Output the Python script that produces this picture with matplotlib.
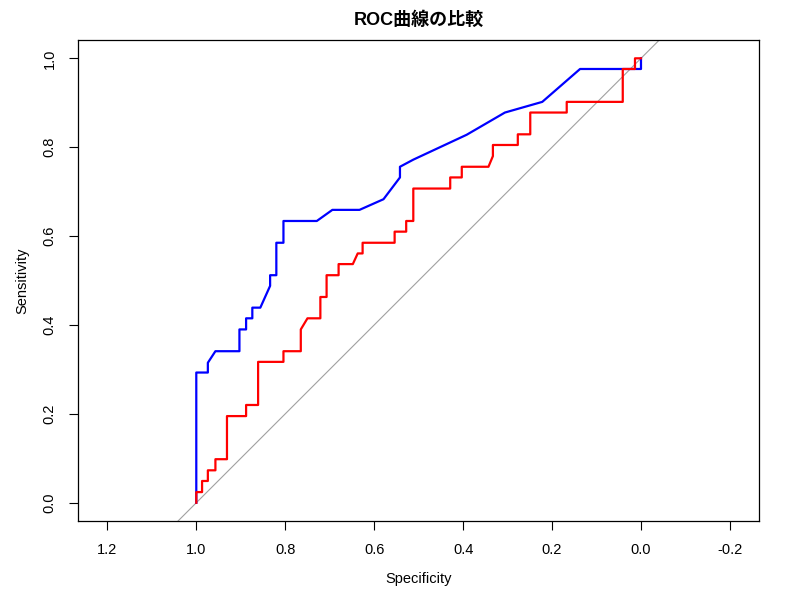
import matplotlib
matplotlib.use("Agg")
from matplotlib import pyplot as plt

plt.rcParams['font.family'] = ['Liberation Sans', 'Noto Sans CJK JP', 'DejaVu Sans']

# ROC curve points (specificity, sensitivity)
blue_spec = [1.0, 1.0, 0.974, 0.974, 0.957, 0.903, 0.903, 0.888, 0.888, 0.874, 0.874,
             0.856, 0.834, 0.834, 0.820, 0.820, 0.804, 0.804, 0.729, 0.694, 0.633,
             0.579, 0.542, 0.542, 0.512, 0.392, 0.306, 0.222, 0.137, 0.0, 0.0]
blue_sens = [0.0, 0.293, 0.293, 0.315, 0.341, 0.341, 0.390, 0.390, 0.415, 0.415, 0.439,
             0.439, 0.488, 0.512, 0.512, 0.585, 0.585, 0.634, 0.634, 0.659, 0.659,
             0.683, 0.732, 0.756, 0.772, 0.828, 0.878, 0.902, 0.976, 0.976, 1.0]

red_spec = [1.0, 1.0, 0.987, 0.987, 0.974, 0.974, 0.957, 0.957, 0.931, 0.931, 0.888,
            0.888, 0.861, 0.861, 0.804, 0.804, 0.765, 0.765, 0.750, 0.721, 0.721,
            0.707, 0.707, 0.680, 0.680, 0.648, 0.637, 0.626, 0.626, 0.554, 0.554,
            0.528, 0.528, 0.512, 0.512, 0.429, 0.429, 0.403, 0.403, 0.343, 0.333,
            0.333, 0.277, 0.277, 0.249, 0.249, 0.167, 0.167, 0.041, 0.041, 0.0135,
            0.0135, 0.0]
red_sens = [0.0, 0.024, 0.024, 0.049, 0.049, 0.073, 0.073, 0.098, 0.098, 0.195, 0.195,
            0.220, 0.220, 0.317, 0.317, 0.341, 0.341, 0.390, 0.415, 0.415, 0.463,
            0.463, 0.512, 0.512, 0.537, 0.537, 0.561, 0.561, 0.585, 0.585, 0.610,
            0.610, 0.634, 0.634, 0.707, 0.707, 0.732, 0.732, 0.756, 0.756, 0.780,
            0.805, 0.805, 0.829, 0.829, 0.878, 0.878, 0.902, 0.902, 0.976, 0.976,
            1.0, 1.0]

x_ticks = [1.2, 1.0, 0.8, 0.6, 0.4, 0.2, 0.0, -0.2]
x_labels = ["1.2", "1.0", "0.8", "0.6", "0.4", "0.2", "0.0", "-0.2"]
y_ticks = [0.0, 0.2, 0.4, 0.6, 0.8, 1.0]
y_labels = ["0.0", "0.2", "0.4", "0.6", "0.8", "1.0"]

fig = plt.figure(figsize=(8, 6), dpi=100)
ax = fig.add_axes([0.0975, 0.1317, 0.8516, 0.8011])

# identity line first, then the two curves
ax.axline((1.0, 0.0), (0.0, 1.0), color='#a0a0a0', lw=0.8)
ax.plot(blue_spec, blue_sens, color='blue', lw=1.6)
ax.plot(red_spec, red_sens, color='red', lw=1.6)

ax.set_xlim(1.266, -0.266)
ax.set_ylim(-0.041, 1.0405)

ax.set_xticks(x_ticks)
ax.set_xticklabels(x_labels)
ax.set_yticks(y_ticks)
ax.set_yticklabels(y_labels, rotation=90, va='center')
ax.tick_params(direction='out', length=6.5, width=0.8, labelsize=10.5, pad=9, colors='black')

for s in ax.spines.values():
    s.set_linewidth(0.9)

ax.set_xlabel("Specificity", fontsize=10.5)
ax.set_ylabel("Sensitivity", fontsize=10.5)
ax.xaxis.set_label_coords(0.5, -0.1206)
ax.xaxis.label.set_va('center')
ax.yaxis.set_label_coords(-0.0822, 0.5)
ax.yaxis.label.set_va('center')

fig.text(0.5233, 0.966, "ROC曲線の比較", ha='center', va='center', fontsize=13, fontweight='bold')

plt.savefig('out.png')
plt.close()
